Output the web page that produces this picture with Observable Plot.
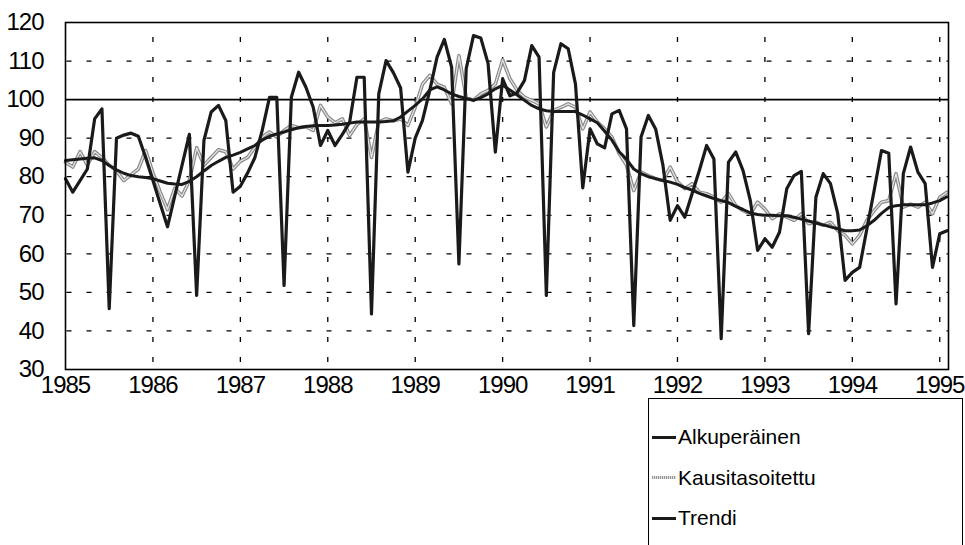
<!DOCTYPE html>
<html>
<head>
<meta charset="utf-8">
<script src="https://cdn.jsdelivr.net/npm/d3@7"></script>
<script src="https://cdn.jsdelivr.net/npm/@observablehq/plot@0.6"></script>
<style>
  html, body { margin: 0; padding: 0; background: #fff; overflow: hidden; }
  #wrap { position: relative; width: 965px; height: 545px; }
  #chart svg text { letter-spacing: -1px; }
  #legend {
    position: absolute; left: 648px; top: 398px; width: 315px; height: 170px;
    border: 1.5px solid #000; box-sizing: border-box;
    font-family: "Liberation Sans", Arial, sans-serif; font-size: 21px; color: #000;
  }
  .item { position: absolute; left: 3px; height: 30px; display: flex; align-items: center; }
  .sw { width: 24px; height: 3px; background: #1a1a1a; margin-right: 2px; }
  .sw.gray { height: 3px; background: repeating-linear-gradient(90deg, #999 0 1px, #ddd 1px 2px); }
</style>
</head>
<body>
<div id="wrap">
  <div id="chart"></div>
  <div id="legend"></div>
</div>
<script>
// Monthly index from January 1985
const months = d3.range(122);
const yearTicks = d3.range(1985, 1996);
const valueTicks = d3.range(30, 121, 10);
const seriesNames = ["Alkuperäinen", "Kausitasoitettu", "Trendi"];

const alkuperainen = [
  79.5, 76, 79, 82, 95, 97.6, 45.8, 90, 90.8, 91.3, 90.5, 85,
  79, 73, 67, 75, 83, 91, 49.2, 89.4, 96.8, 98.5, 94.6, 76,
  77.5, 81, 85, 92, 100.6, 100.6, 51.8, 100.6, 107.1, 103.2, 98, 88.1,
  92, 88.1, 91, 94.1, 105.8, 105.8, 44.4, 101.5, 110.1, 107, 103, 81.2,
  90, 94.6, 102.4, 111, 115.6, 108.4, 57.4, 108, 116.6, 116, 109.4, 86.4,
  105.4, 101, 101.8, 105, 114, 111, 49.2, 107, 114.5, 113.2, 104, 77.1,
  92.4, 88.5, 87.5, 96.3, 97.2, 92.4, 41.4, 90.3, 95.9, 92.4, 83, 68.7,
  72.5, 69.5, 75.6, 81.6, 88.1, 84.6, 38, 83.8, 86.4, 81.6, 73.8, 60.9,
  63.9, 61.7, 65.6, 76.9, 80.3, 81.4, 39.3, 74.7, 80.8, 78.2, 70.4, 53.1,
  55.2, 56.5, 66.5, 76.5, 86.8, 86.1, 47, 80.8, 87.7, 81.2, 78.2, 56.5,
  65.2, 66
];

const kausitasoitettu = [
  83.7, 82.5, 86.5, 83, 86.5, 85, 83, 81.5, 79, 80.5, 82, 86.8,
  81, 76, 71.5, 77, 75, 79, 87.5, 83, 85, 87, 86.5, 82,
  84, 85, 87.7, 90.3, 91.6, 90.3, 92, 93.3, 92.7, 93, 92, 98.5,
  95.5, 94, 95, 90.7, 93.5, 95, 85, 94.2, 95, 94.5, 95, 93.3,
  98, 104, 106.3, 104, 103.2, 98.9, 111.4, 100.6, 99.8, 101.5, 102.4, 104,
  110.3, 105.4, 102.4, 100.6, 99.8, 98.9, 92.9, 97.2, 98, 98.9, 98, 92.4,
  96.8, 94.2, 92.4, 90.3, 86, 83, 76.4, 81.2, 80.3, 79.5, 79, 82.5,
  78.7, 76.9, 78.2, 76, 75.6, 74.7, 73.4, 75.6, 72.5, 71.2, 70.4, 73.4,
  71.6, 69.1, 70.4, 69.5, 68.7, 70.4, 67.8, 68.2, 67.4, 68.2, 66, 64.8,
  62.6, 64.8, 68.7, 71.2, 73.4, 73.8, 80.8, 72.1, 72.9, 72.1, 73.4, 70.4,
  74.7, 76
];

const trendi = [
  84.2, 84.4, 84.6, 84.8, 84.9, 84.2, 82.9, 81.8, 80.9, 80.3, 80, 79.8,
  79.5, 78.9, 78.3, 78.1, 78, 78.8, 80, 81.5, 82.9, 84, 85, 85.6,
  86.3, 87.2, 88.1, 89.5, 90.5, 91.1, 91.6, 92.2, 92.7, 93, 93.2, 93.3,
  93.3, 93.4, 93.6, 93.9, 94.2, 94.2, 94.2, 94.2, 94.3, 94.5, 95.5, 97,
  98.5, 100.2, 102.5, 103.3, 102.5, 101.5, 100.8, 100.3, 99.8, 100.5, 101.5, 102.8,
  103.7, 102.5, 101.2, 99.8, 98.5, 97.6, 97.1, 96.9, 96.9, 96.9, 96.9, 96,
  95, 94, 91.8, 89.5, 86.5, 84.5, 82, 80.8, 80, 79.5, 79, 78.6,
  78, 77.2, 76.5, 75.7, 75, 74.3, 73.8, 73.3, 72.3, 71.5, 70.6, 70.2,
  70, 70, 69.9, 69.9, 69.5, 69, 68.5, 68, 67.5, 67, 66.5, 66,
  66, 66.2, 67.3, 68.7, 70.5, 72, 72.5, 72.7, 72.7, 72.7, 72.7, 73.2,
  73.8, 74.8
];

const rows = months.map((m, i) => ({
  t: 1985 + m / 12,
  a: alkuperainen[i],
  k: kausitasoitettu[i],
  tr: trendi[i]
}));

const ink = "#1a1a1a";

const chart = Plot.plot({
  width: 965,
  height: 400,
  marginLeft: 65,
  marginRight: 17,
  marginTop: 22,
  marginBottom: 31,
  style: { fontFamily: "'Liberation Sans', Arial, sans-serif", fontSize: "24px", background: "#fff", color: "#000" },
  x: { domain: [1985, 1995.1], ticks: yearTicks, tickFormat: "d", tickSize: 0, tickPadding: 6, label: null },
  y: { domain: [30, 120], ticks: valueTicks, tickSize: 0, tickPadding: 22, label: null },
  marks: [
    Plot.ruleY(valueTicks.filter(v => v > 30 && v < 120 && v !== 100), { stroke: "#000", strokeWidth: 1.3, strokeDasharray: "5,15", strokeDashoffset: -1.5 }),
    Plot.ruleX(yearTicks.filter(y => y > 1985), { stroke: "#000", strokeWidth: 1.3, strokeDasharray: "5,15", strokeDashoffset: 5 }),
    Plot.ruleY([100], { stroke: "#000", strokeWidth: 1.7 }),
    Plot.line(rows, { x: "t", y: "k", stroke: "#8a8a8a", strokeWidth: 3.6 }),
    Plot.line(rows, { x: "t", y: "k", stroke: "#e6e6e6", strokeWidth: 1.2 }),
    Plot.line(rows, { x: "t", y: "tr", stroke: ink, strokeWidth: 3 }),
    Plot.line(rows, { x: "t", y: "a", stroke: ink, strokeWidth: 3.2 }),
    Plot.frame({ stroke: "#000", strokeWidth: 1.6 })
  ]
});
document.getElementById("chart").appendChild(chart);

const legend = document.getElementById("legend");
seriesNames.forEach((name, i) => {
  const item = document.createElement("div");
  item.className = "item";
  item.style.top = (23 + i * 40.5) + "px";
  const sw = document.createElement("div");
  sw.className = "sw" + (i === 1 ? " gray" : "");
  const label = document.createElement("span");
  label.textContent = name;
  item.appendChild(sw);
  item.appendChild(label);
  legend.appendChild(item);
});
</script>
</body>
</html>
